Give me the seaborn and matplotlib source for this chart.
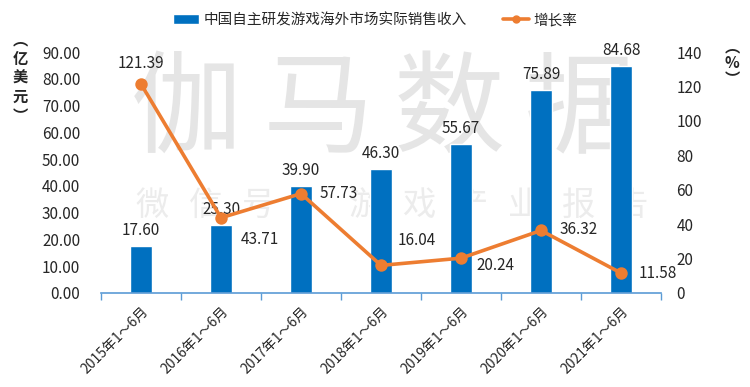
import matplotlib
matplotlib.use('Agg')
import matplotlib.pyplot as plt
from matplotlib.patches import Patch
from matplotlib.lines import Line2D
from matplotlib.ticker import FixedLocator
import pandas as pd
import seaborn as sns

# данные с графика
periods = ['2015年1～6月', '2016年1～6月', '2017年1～6月', '2018年1～6月',
           '2019年1～6月', '2020年1～6月', '2021年1～6月']
revenue = [17.60, 25.30, 39.90, 46.30, 55.67, 75.89, 84.68]
growth = [121.39, 43.71, 57.73, 16.04, 20.24, 36.32, 11.58]
left_ticks = [0, 10, 20, 30, 40, 50, 60, 70, 80, 90]
right_ticks = [0, 20, 40, 60, 80, 100, 120, 140]

bar_name = '中国自主研发游戏海外市场实际销售收入'
line_name = '增长率'

df = pd.DataFrame({'period': periods, 'revenue': revenue, 'growth': growth})

sns.set_style('white')
plt.rcParams['font.family'] = ['Noto Sans CJK SC', 'DejaVu Sans']

blue = '#0070C0'
orange = '#ED7D31'

fig = plt.figure(figsize=(7.5, 3.87), dpi=100)
ax = fig.add_axes([0.1347, 0.2429, 0.7467, 0.6227])
ax.patch.set_visible(False)

# водяной знак
for ch, xc in zip('伽马数据', [186, 318, 449, 580]):
    fig.text(xc / 750, 1 - 112 / 387, ch, fontsize=80, color='#e5e5e5',
             ha='center', va='center', zorder=-1)
for i, ch in enumerate('微信号：游戏产业报告'):
    fig.text((152 + i * 53.3) / 750, 1 - 205 / 387, ch, fontsize=24,
             color='#ececec', ha='center', va='center', zorder=-1)

sns.barplot(data=df, x='period', y='revenue', color=blue, width=0.27,
            saturation=1, ax=ax)
ax.bar_label(ax.containers[0], labels=[f'{v:.2f}' for v in revenue],
             padding=5, fontsize=11)

ax2 = ax.twinx()
sns.pointplot(data=df, x='period', y='growth', color=orange, errorbar=None,
              markers='o', markersize=7, linewidth=2.6, ax=ax2)

offsets = [(0, 15, 'center'), (14, -16, 'left'), (13, 0, 'left'),
           (12, 18, 'left'), (11, -5, 'left'), (13, 1, 'left'), (13, 0, 'left')]
for i, (v, (dx, dy, ha)) in enumerate(zip(growth, offsets)):
    ax2.annotate(f'{v:.2f}', (i, v), xytext=(dx, dy), textcoords='offset points',
                 ha=ha, va='center', fontsize=11)

ax.set_xlim(-0.5, len(periods) - 0.5)
ax.set_ylim(0, 90)
ax2.set_ylim(0, 140)
ax.set_yticks(left_ticks)
ax.set_yticklabels([f'{t:.2f}' for t in left_ticks], fontsize=11)
ax2.set_yticks(right_ticks)
ax2.set_yticklabels([str(t) for t in right_ticks], fontsize=11)
ax.tick_params(axis='y', length=0, pad=15)
ax2.tick_params(axis='y', length=0, pad=11)

ax.set_xticks(range(len(periods)))
ax.set_xticklabels(periods, rotation=45, ha='right', rotation_mode='anchor',
                   fontsize=10)
ax.xaxis.set_minor_locator(FixedLocator([i - 0.5 for i in range(len(periods) + 1)]))
ax.tick_params(axis='x', which='major', length=0, pad=8)
ax.tick_params(axis='x', which='minor', length=5, color='#5B9BD5', width=1,
               direction='out', bottom=True)

for s in ['top', 'left', 'right']:
    ax.spines[s].set_visible(False)
ax.spines['bottom'].set_color('#5B9BD5')
ax.spines['bottom'].set_linewidth(1.2)
for s in ax2.spines.values():
    s.set_visible(False)
ax.set_xlabel('')
ax.set_ylabel('')
ax2.set_xlabel('')
ax2.set_ylabel('')
ax.grid(False)
ax2.grid(False)

# подписи осей вертикальным текстом
fig.text(20 / 750, 1 - 78 / 387, '︵\n亿\n美\n元\n︶', fontsize=11,
         fontweight='bold', ha='center', va='center', linespacing=1.25)
fig.text(732 / 750, 1 - 63 / 387, '︵\n%\n︶', fontsize=11,
         fontweight='bold', ha='center', va='center', linespacing=1.05)

handles = [Patch(facecolor=blue, label=bar_name),
           Line2D([0], [0], color=orange, lw=2.6, marker='o', markersize=5,
                  label=line_name)]
fig.legend(handles=handles, loc='center', bbox_to_anchor=(0.5, 1 - 20 / 387),
           ncol=2, frameon=False, fontsize=10.5, handlelength=1.8,
           handleheight=0.6, handletextpad=0.3, columnspacing=2.5)

fig.savefig('out.png', dpi=100)
